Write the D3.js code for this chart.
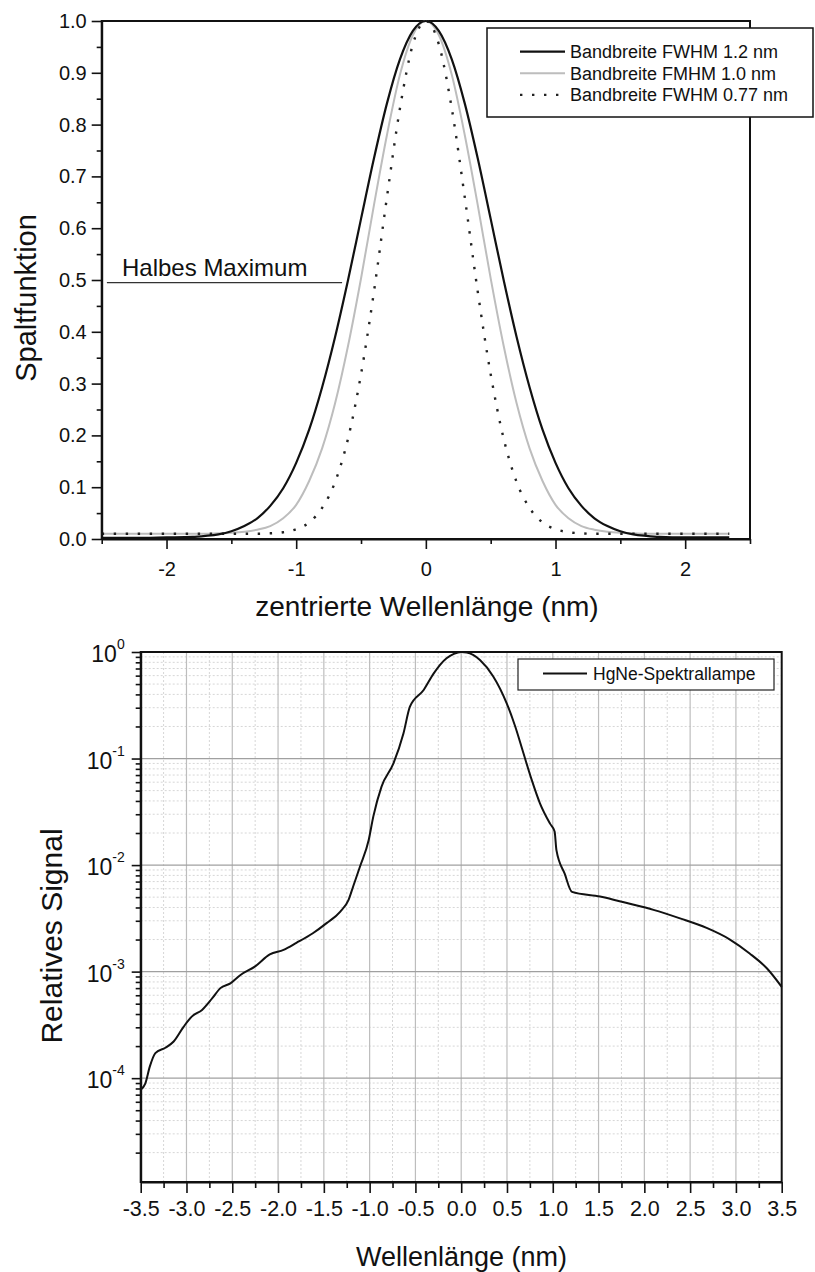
<!DOCTYPE html>
<html>
<head>
<meta charset="utf-8">
<script src="https://cdn.jsdelivr.net/npm/d3@7/dist/d3.min.js"></script>
<style>
  html, body { margin: 0; padding: 0; background: #fff; }
  svg { display: block; font-family: Arial, "Liberation Sans", Helvetica, sans-serif; }
</style>
</head>
<body>
<svg id="chart" width="815" height="1272"></svg>
<script>
// ---- Spaltfunktion (upper panel) ----
const slitX = [-2.5, -2.25, -2.0, -1.8, -1.7, -1.6, -1.5, -1.4, -1.3, -1.2, -1.1, -1.0, -0.9, -0.8, -0.7, -0.6, -0.5, -0.4, -0.3, -0.2, -0.1,
  0, 0.1, 0.2, 0.3, 0.4, 0.5, 0.6, 0.7, 0.8, 0.9, 1.0, 1.1, 1.2, 1.3, 1.4, 1.5, 1.6, 1.7, 1.8, 2.0, 2.2, 2.34];
const fwhm12 = [0.002, 0.002, 0.003, 0.004, 0.006, 0.009, 0.015, 0.025, 0.040, 0.064, 0.098, 0.147, 0.211, 0.293, 0.390, 0.500, 0.618, 0.735, 0.841, 0.926, 0.981,
  1.0, 0.981, 0.926, 0.841, 0.735, 0.618, 0.500, 0.390, 0.293, 0.211, 0.147, 0.098, 0.064, 0.040, 0.025, 0.015, 0.009, 0.006, 0.004, 0.003, 0.003, 0.003];
const fwhm10 = [0.010, 0.010, 0.010, 0.010, 0.010, 0.011, 0.012, 0.014, 0.018, 0.025, 0.040, 0.066, 0.112, 0.175, 0.262, 0.373, 0.503, 0.645, 0.780, 0.896, 0.973,
  1.0, 0.973, 0.896, 0.780, 0.645, 0.503, 0.373, 0.262, 0.175, 0.112, 0.066, 0.040, 0.025, 0.018, 0.014, 0.012, 0.011, 0.010, 0.010, 0.010, 0.010, 0.010];
const fwhm077 = [0.010, 0.010, 0.010, 0.010, 0.010, 0.010, 0.010, 0.010, 0.010, 0.011, 0.013, 0.019, 0.032, 0.060, 0.110, 0.194, 0.318, 0.478, 0.660, 0.831, 0.955,
  1.0, 0.955, 0.831, 0.660, 0.478, 0.318, 0.194, 0.110, 0.060, 0.032, 0.019, 0.013, 0.011, 0.010, 0.010, 0.010, 0.010, 0.010, 0.010, 0.010, 0.010, 0.010];
const slitLegend = ["Bandbreite FWHM 1.2 nm", "Bandbreite FMHM 1.0 nm", "Bandbreite FWHM 0.77 nm"];
const slitXTicks = [-2, -1, 0, 1, 2];
const slitXMinor = [-2.5, -1.5, -0.5, 0.5, 1.5, 2.5];
const slitYTicks = [0, 0.1, 0.2, 0.3, 0.4, 0.5, 0.6, 0.7, 0.8, 0.9, 1.0];
const slitYMinor = [0.05, 0.15, 0.25, 0.35, 0.45, 0.55, 0.65, 0.75, 0.85, 0.95];
const halfMax = { level: 0.495, from: -2.46, to: -0.646, label: "Halbes Maximum" };

// ---- HgNe-Spektrallampe (lower panel) ----
const lampX = [-3.50, -3.45, -3.40, -3.34, -3.23, -3.14, -3.03, -2.94, -2.83, -2.72, -2.63, -2.52, -2.41, -2.25, -2.09, -1.94, -1.80, -1.62, -1.47, -1.32,
  -1.23, -1.18, -1.105, -1.01, -0.96, -0.87, -0.74, -0.63, -0.56, -0.41, -0.30, -0.16, -0.08, 0.0, 0.06, 0.13, 0.205, 0.35, 0.497, 0.59, 0.68,
  0.77, 0.86, 0.97, 1.02, 1.04, 1.13, 1.21, 1.516, 1.81, 2.10, 2.39, 2.68, 2.935, 3.15, 3.34, 3.50];
const lampSignal = [7.8e-5, 8.9e-5, 1.29e-4, 1.72e-4, 1.93e-4, 2.21e-4, 3.05e-4, 3.8e-4, 4.37e-4, 5.6e-4, 7.0e-4, 7.76e-4, 9.3e-4, 1.12e-3, 1.45e-3, 1.60e-3, 1.86e-3, 2.29e-3, 2.85e-3, 3.66e-3,
  4.72e-3, 6.3e-3, 9.7e-3, 1.72e-2, 2.85e-2, 5.45e-2, 9.0e-2, 0.173, 0.307, 0.44, 0.63, 0.873, 0.96, 1.0, 0.99, 0.94, 0.84, 0.59, 0.33, 0.20, 0.112,
  0.063, 0.038, 0.0245, 0.0207, 0.0138, 0.0083, 0.0056, 0.00507, 0.0044, 0.0038, 0.00316, 0.00257, 0.0020, 0.00148, 0.00107, 0.00072];
const lampLegend = "HgNe-Spektrallampe";
const lampXTicks = [-3.5, -3.0, -2.5, -2.0, -1.5, -1.0, -0.5, 0.0, 0.5, 1.0, 1.5, 2.0, 2.5, 3.0, 3.5];
const lampXMinor = [-3.25, -2.75, -2.25, -1.75, -1.25, -0.75, -0.25, 0.25, 0.75, 1.25, 1.75, 2.25, 2.75, 3.25];
const lampYExponents = [0, -1, -2, -3, -4];

const svg = d3.select("#chart");
const ink = "#111";

function styleAxis(g, width) {
  g.select(".domain").attr("stroke", ink).attr("stroke-width", width);
  g.selectAll(".tick line").attr("stroke", ink).attr("stroke-width", 1.6);
  g.selectAll(".tick text").attr("fill", ink);
}

// ================= Upper panel =================
const box1 = { L: 101.7, R: 750, T: 21, B: 539 };
const x1 = d3.scaleLinear().domain([-2.5, 2.5]).range([box1.L, box1.R]);
const y1 = d3.scaleLinear().domain([0, 1]).range([box1.B, box1.T]);
const p1 = svg.append("g");

// frame
p1.append("rect").attr("x", box1.L).attr("y", box1.T).attr("width", box1.R - box1.L).attr("height", box1.B - box1.T)
  .attr("fill", "none").attr("stroke", ink).attr("stroke-width", 2);

// half-maximum marker
p1.append("line").attr("x1", x1(halfMax.from)).attr("x2", x1(halfMax.to))
  .attr("y1", y1(halfMax.level)).attr("y2", y1(halfMax.level))
  .attr("stroke", "#333").attr("stroke-width", 1.2);
p1.append("text").attr("x", 122).attr("y", y1(halfMax.level) - 7)
  .attr("font-size", 24).attr("fill", ink).text(halfMax.label);

// curves
const line1 = d3.line().x((d, i) => x1(slitX[i])).y(d => y1(d)).curve(d3.curveMonotoneX);
p1.append("path").datum(fwhm10).attr("d", line1).attr("fill", "none")
  .attr("stroke", "#bdbdbd").attr("stroke-width", 2);
p1.append("path").datum(fwhm077).attr("d", line1).attr("fill", "none")
  .attr("stroke", "#222").attr("stroke-width", 2.4).attr("stroke-dasharray", "2.4 9.6");
p1.append("path").datum(fwhm12).attr("d", line1).attr("fill", "none")
  .attr("stroke", "#111").attr("stroke-width", 2.2);

// axes
const ax1 = p1.append("g").attr("transform", `translate(0,${box1.B})`)
  .call(d3.axisBottom(x1).tickValues(slitXTicks).tickSize(10).tickSizeOuter(0).tickPadding(13)
    .tickFormat(d => String(d)));
ax1.selectAll(".tick text").attr("font-size", 20);
styleAxis(ax1, 2);
p1.append("g").attr("transform", `translate(0,${box1.B})`)
  .call(d3.axisBottom(x1).tickValues(slitXMinor).tickSize(5).tickSizeOuter(0).tickFormat(""))
  .call(g => { g.select(".domain").remove(); g.selectAll(".tick line").attr("stroke", ink).attr("stroke-width", 1.6); });

const ay1 = p1.append("g").attr("transform", `translate(${box1.L},0)`)
  .call(d3.axisLeft(y1).tickValues(slitYTicks).tickSize(10).tickSizeOuter(0).tickPadding(5)
    .tickFormat(d => d.toFixed(1)));
ay1.selectAll(".tick text").attr("font-size", 20);
styleAxis(ay1, 2);
p1.append("g").attr("transform", `translate(${box1.L},0)`)
  .call(d3.axisLeft(y1).tickValues(slitYMinor).tickSize(5).tickSizeOuter(0).tickFormat(""))
  .call(g => { g.select(".domain").remove(); g.selectAll(".tick line").attr("stroke", ink).attr("stroke-width", 1.6); });

// titles
p1.append("text").attr("transform", "translate(36,298) rotate(-90)")
  .attr("text-anchor", "middle").attr("font-size", 29).attr("fill", ink).text("Spaltfunktion");
p1.append("text").attr("x", 427).attr("y", 616).attr("text-anchor", "middle")
  .attr("font-size", 28).attr("fill", ink).text("zentrierte Wellenlänge (nm)");

// legend
const lg1 = p1.append("g");
lg1.append("rect").attr("x", 487).attr("y", 28).attr("width", 326).attr("height", 89)
  .attr("fill", "#fff").attr("stroke", ink).attr("stroke-width", 1.5);
const legendStyles = [
  { stroke: "#111", width: 2.2, dash: null },
  { stroke: "#bdbdbd", width: 2, dash: null },
  { stroke: "#222", width: 2.4, dash: "2.4 9.6" }
];
slitLegend.forEach((label, i) => {
  const cy = 51.7 + i * 21.6;
  const s = legendStyles[i];
  lg1.append("line").attr("x1", 520).attr("x2", 565).attr("y1", cy).attr("y2", cy)
    .attr("stroke", s.stroke).attr("stroke-width", s.width).attr("stroke-dasharray", s.dash);
  lg1.append("text").attr("x", 570).attr("y", cy + 6.3).attr("font-size", 18).attr("fill", ink).text(label);
});

// ================= Lower panel =================
const box2 = { L: 140.7, R: 781.7, T: 652, B: 1182 };
const x2 = d3.scaleLinear().domain([-3.5, 3.5]).range([box2.L, box2.R]);
const y2 = d3.scaleLog().domain([1.06e-5, 1]).range([box2.B, box2.T]);
const p2 = svg.append("g");

// minor values on the log axis
const yMinorVals = [];
for (let e = -5; e <= -1; e++) {
  for (let k = 2; k <= 9; k++) {
    const v = k * Math.pow(10, e);
    if (v > y2.domain()[0] && v < 1) yMinorVals.push(v);
  }
}
const yMajorVals = lampYExponents.map(e => Math.pow(10, e));

// grid
const grid = p2.append("g");
grid.selectAll(".vminor").data(lampXMinor).join("line")
  .attr("x1", d => x2(d)).attr("x2", d => x2(d)).attr("y1", box2.T).attr("y2", box2.B)
  .attr("stroke", "#d6d6d6").attr("stroke-width", 1).attr("stroke-dasharray", "2 2");
grid.selectAll(".hminor").data(yMinorVals).join("line")
  .attr("x1", box2.L).attr("x2", box2.R).attr("y1", d => y2(d)).attr("y2", d => y2(d))
  .attr("stroke", "#d6d6d6").attr("stroke-width", 1).attr("stroke-dasharray", "2 2");
grid.selectAll(".vmajor").data(lampXTicks.slice(1, -1)).join("line")
  .attr("x1", d => x2(d)).attr("x2", d => x2(d)).attr("y1", box2.T).attr("y2", box2.B)
  .attr("stroke", "#bdbdbd").attr("stroke-width", 1.2);
grid.selectAll(".hmajor").data(yMajorVals.slice(1)).join("line")
  .attr("x1", box2.L).attr("x2", box2.R).attr("y1", d => y2(d)).attr("y2", d => y2(d))
  .attr("stroke", "#a0a0a0").attr("stroke-width", 1.2);

// frame
p2.append("rect").attr("x", box2.L).attr("y", box2.T).attr("width", box2.R - box2.L).attr("height", box2.B - box2.T)
  .attr("fill", "none").attr("stroke", ink).attr("stroke-width", 2);

// signal curve
const line2 = d3.line().x((d, i) => x2(lampX[i])).y(d => y2(d)).curve(d3.curveMonotoneX);
p2.append("path").datum(lampSignal).attr("d", line2).attr("fill", "none")
  .attr("stroke", "#111").attr("stroke-width", 2).attr("stroke-linejoin", "round");

// axes
const ax2 = p2.append("g").attr("transform", `translate(0,${box2.B})`)
  .call(d3.axisBottom(x2).tickValues(lampXTicks).tickSize(11).tickSizeOuter(0).tickPadding(8)
    .tickFormat(d => d.toFixed(1)));
ax2.selectAll(".tick text").attr("font-size", 21.5);
styleAxis(ax2, 2);
p2.append("g").attr("transform", `translate(0,${box2.B})`)
  .call(d3.axisBottom(x2).tickValues(lampXMinor).tickSize(6).tickSizeOuter(0).tickFormat(""))
  .call(g => { g.select(".domain").remove(); g.selectAll(".tick line").attr("stroke", ink).attr("stroke-width", 1.6); });

const ay2 = p2.append("g").attr("transform", `translate(${box2.L},0)`)
  .call(d3.axisLeft(y2).tickValues(yMajorVals).tickSize(9).tickSizeOuter(0).tickFormat(""));
styleAxis(ay2, 2);
p2.append("g").attr("transform", `translate(${box2.L},0)`)
  .call(d3.axisLeft(y2).tickValues(yMinorVals).tickSize(5).tickSizeOuter(0).tickFormat(""))
  .call(g => { g.select(".domain").remove(); g.selectAll(".tick line").attr("stroke", ink).attr("stroke-width", 1.6); });

// power-of-ten labels
ay2.selectAll(".tick").each(function (d) {
  const e = Math.round(Math.log10(d));
  const t = d3.select(this).append("text").attr("x", -16).attr("y", 9.5)
    .attr("text-anchor", "end").attr("fill", ink).attr("font-size", 23);
  t.append("tspan").text("10");
  t.append("tspan").attr("dy", -13).attr("font-size", 14).text(String(e).replace("\u2212", "-"));
});

// titles
p2.append("text").attr("transform", "translate(62,936) rotate(-90)")
  .attr("text-anchor", "middle").attr("font-size", 30).attr("fill", ink).text("Relatives Signal");
p2.append("text").attr("x", 461.5).attr("y", 1266).attr("text-anchor", "middle")
  .attr("font-size", 27).attr("fill", ink).text("Wellenlänge (nm)");

// legend
const lg2 = p2.append("g");
lg2.append("rect").attr("x", 518).attr("y", 659).attr("width", 256).attr("height", 31)
  .attr("fill", "#fff").attr("stroke", "#222").attr("stroke-width", 1.2);
lg2.append("line").attr("x1", 543).attr("x2", 587).attr("y1", 673.5).attr("y2", 673.5)
  .attr("stroke", "#111").attr("stroke-width", 2);
lg2.append("text").attr("x", 593).attr("y", 680).attr("font-size", 17.5).attr("fill", ink).text(lampLegend);
</script>
</body>
</html>
